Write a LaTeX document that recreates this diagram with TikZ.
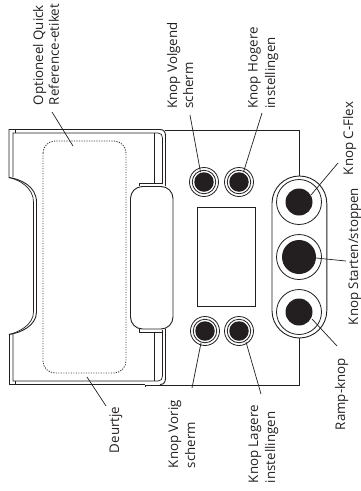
\documentclass[tikz,border=0pt]{standalone}
\usepackage{fontspec}
\setmainfont{Open Sans}
\definecolor{ink}{HTML}{231F20}
\tikzset{
 lbl/.style={rotate=90,anchor=base west,inner sep=0pt,outer sep=0pt,text=ink,font=\fontsize{13.3}{16}\selectfont},
 ln/.style={draw=ink,line width=0.9pt},
 thin/.style={draw=ink,line width=0.7pt},
 leader/.style={draw=ink,line width=0.7pt},
 ring/.style={circle,draw=ink,line width=0.8pt,fill=white,inner sep=0pt,minimum size=#1},
 dot/.style={circle,fill=ink,inner sep=0pt,minimum size=#1},
 pt/.style={coordinate}
}
\begin{document}
\begin{tikzpicture}[x=1pt,y=-1pt]
\useasboundingbox (0,0) rectangle (361,491);
% main panel
\draw[ln] (165,130) -- (299,130) -- (299,176);
\draw[ln] (299,338) -- (299,385) -- (145,385) -- (145,386.5);
% door outer
\draw[ln] (9,177.5) -- (9,129.5) -- (160,129.5) .. controls (164,129.5) and (165.5,132) .. (165.5,136) -- (165.5,186);
\draw[thin] (13,177) -- (13,133) -- (158,133) .. controls (161,133) and (162.5,135) .. (162.5,138) -- (162.5,184);
\draw[thin] (15,130) -- (15,133);
\draw[ln] (154.5,133) -- (154.5,184);
\draw[ln] (139.5,186) -- (139.5,183.5) -- (163,183.5);
% lower part
\draw[ln] (9,334.5) -- (9,384.5) -- (145,384.5);
\draw[thin] (13,334) -- (13,381) -- (158,381) .. controls (161,381) and (162.5,379) .. (162.5,376) -- (162.5,330);
\draw[thin] (15,381) -- (15,384.5);
\draw[ln] (154.5,332) -- (154.5,381);
\draw[ln] (165.5,329) -- (165.5,378) .. controls (165.5,382) and (164,384.5) .. (160,384.5);
\draw[ln] (139.5,329) -- (139.5,332) -- (163,332);
% notch curves
\draw[ln] (9,177.5) .. controls (20,179) and (36.5,186) .. (36.5,202) -- (36.5,312) .. controls (36.5,326) and (20,333) .. (9,334.5);
\draw[thin] (9,177.5) .. controls (20,180) and (33.5,188) .. (33.5,202) -- (33.5,312) .. controls (33.5,324) and (20,332) .. (9,334.5);
% handle
\draw[ln,rounded corners=12pt] (130.5,186.5) rectangle (173,329);
% dotted label
\draw[draw=ink!90,line width=0.85pt,dash pattern=on 1.2pt off 1.3pt,rounded corners=12pt] (43,141) rectangle (126,373);
% display
\draw[ln] (197,207) rectangle (255,306);
% pill
\draw[ln,rounded corners=27.4pt] (272,176) rectangle (326.8,338);
% buttons
\foreach \n/\x/\y in {a/204/182,b/239/182,c/205/331,d/239/331}{
  \node[ring=29pt] (r\n) at (\x,\y) {};
  \node[ring=23.5pt] (s\n) at (\x,\y) {};
  \node[dot=19.5pt] (k\n) at (\x,\y) {};
}
\node[ring=45pt] (rf) at (299,202) {};
\node[dot=27pt] (kf) at (299,202) {};
\node[ring=45pt] (rs) at (299,257) {};
\node[dot=34pt] (ks) at (299,257) {};
\node[ring=45pt] (rr) at (299,312) {};
\node[dot=27pt] (kr) at (299,312) {};
% labels
\node[lbl] (t1a) at (43,105) {Optioneel Quick};
\node[lbl] (t1b) at (59,105) {Reference-etiket};
\node[lbl] (t2a) at (177,108.5) {Knop Volgend};
\node[lbl] (t2b) at (193,108.5) {scherm};
\node[lbl] (t3a) at (257.5,108.5) {Knop Hogere};
\node[lbl] (t3b) at (275,108.5) {instellingen};
\node[lbl] (t4) at (353,175) {Knop C-Flex};
\node[lbl] (t5) at (358,325) {Knop Starten/stoppen};
\node[lbl] (t6) at (345,430) {Ramp-knop};
\node[lbl] (t7a) at (258,483) {Knop Lagere};
\node[lbl] (t7b) at (275,483) {instellingen};
\node[lbl] (t8a) at (178,468) {Knop Vorig};
\node[lbl] (t8b) at (195,468) {scherm};
\node[lbl] (t9) at (119,453) {Deurtje};
% leader ends
\node[pt] (e1a) at (52,112) {};  \node[pt] (e1b) at (73,146) {};
\node[pt] (e2a) at (190,115) {}; \node[pt] (e2b) at (200.5,172) {};
\node[pt] (e3a) at (262,113) {}; \node[pt] (e3b) at (243.5,172) {};
\node[pt] (e4a) at (338,163) {}; \node[pt] (e4b) at (311,195) {};
\node[pt] (e5a) at (346,261) {}; \node[pt] (e5b) at (316,258) {};
\node[pt] (e6a) at (337,346) {}; \node[pt] (e6b) at (312,319) {};
\node[pt] (e7a) at (261,394) {}; \node[pt] (e7b) at (246,342) {};
\node[pt] (e8a) at (192,388) {}; \node[pt] (e8b) at (201,343) {};
\node[pt] (e9a) at (106,406) {}; \node[pt] (e9b) at (87,377) {};
\foreach \i in {1,...,9}{ \draw[leader] (e\i a) -- (e\i b); }
\end{tikzpicture}
\end{document}
